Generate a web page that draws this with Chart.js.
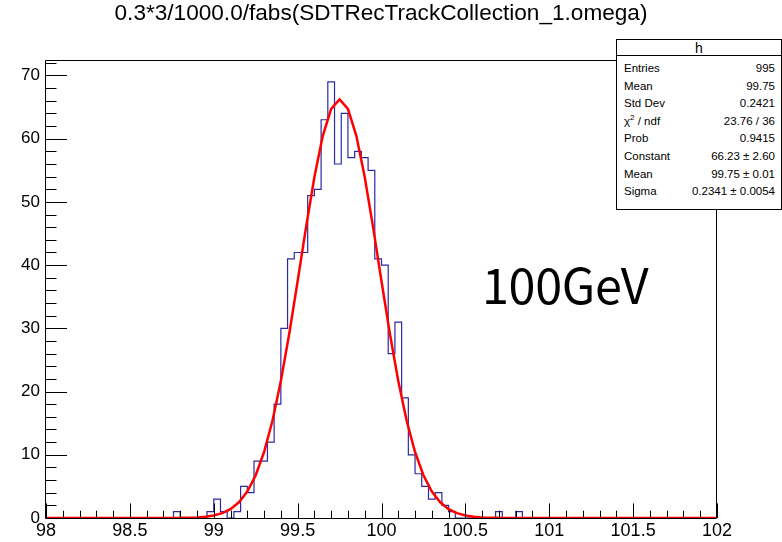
<!DOCTYPE html>
<html>
<head>
<meta charset="utf-8">
<script src="https://cdn.jsdelivr.net/npm/chart.js@4/dist/chart.umd.min.js"></script>
<style>
  body { margin: 0; background: #fff; }
  #wrap { position: relative; width: 782px; height: 542px; overflow: hidden; font-family: "Liberation Sans", Arial, sans-serif; }
  #title { position: absolute; top: 2px; left: 381px; transform: translateX(-50%); font-size: 22.6px; line-height: 22px; white-space: nowrap; color: #000; }
  #energy { position: absolute; left: 482px; top: 248px; font-family: "Noto Sans CJK JP", sans-serif; font-size: 48.5px; line-height: 70px; letter-spacing: -0.3px; color: #000; white-space: nowrap; }
  #stats { position: absolute; left: 616px; top: 39px; width: 166px; height: 171px; box-sizing: border-box; border: 1px solid #000; background: #fff; font-size: 11.5px; color: #000; }
  #stats .head { height: 15px; line-height: 16px; text-align: center; border-bottom: 1px solid #000; font-size: 14px; }
  #stats .row { position: absolute; left: 7px; right: 6px; height: 17.6px; line-height: 17.6px; }
  #stats .row span:last-child { position: absolute; right: 0; }
  sup { font-size: 8px; line-height: 0; }
</style>
</head>
<body>
<div id="wrap">
  <canvas id="myChart" width="782" height="542"></canvas>
  <div id="title">0.3*3/1000.0/fabs(SDTRecTrackCollection_1.omega)</div>
  <div id="energy">100GeV</div>
  <div id="stats"></div>
</div>
<script>
// histogram: 100 bins from 98 to 102
const xMin = 98;
const xMax = 102;
const binWidth = 0.04;
const binCounts = [
  0, 0, 0, 0, 0, 0, 0, 0, 0, 0,
  0, 0, 0, 0, 0, 0, 0, 0, 0, 1,
  0, 0, 0, 0, 1, 3, 1, 0, 1, 5,
  4, 9, 9, 12, 18, 30, 41, 42, 42, 51,
  52, 63, 69, 56, 64, 57, 58, 57, 55, 41,
  40, 26, 31, 19, 10, 7, 5, 3, 4, 2,
  1, 0, 0, 0, 0, 0, 0, 1, 0, 0,
  1, 0, 0, 0, 0, 0, 0, 0, 0, 0,
  0, 0, 0, 0, 0, 0, 0, 0, 0, 0,
  0, 0, 0, 0, 0, 0, 0, 0, 0, 0
];

// gaus fit curve
const fitX = [98, 98.8, 98.9, 98.95, 99.0, 99.05, 99.1, 99.15, 99.2, 99.25, 99.3, 99.35, 99.4, 99.45,
  99.5, 99.55, 99.6, 99.65, 99.7, 99.75, 99.8, 99.85, 99.9, 99.95, 100.0, 100.05, 100.1, 100.15,
  100.2, 100.25, 100.3, 100.35, 100.4, 100.45, 100.5, 100.55, 100.6, 100.7, 102];
const fitY = [0, 0.02, 0.09, 0.19, 0.39, 0.76, 1.40, 2.48, 4.19, 6.77, 10.44, 15.39, 21.66, 29.14,
  37.45, 45.98, 53.94, 60.46, 64.73, 66.23, 64.73, 60.46, 53.94, 45.98, 37.45, 29.14, 21.66, 15.39,
  10.44, 6.77, 4.19, 2.48, 1.40, 0.76, 0.39, 0.19, 0.09, 0.02, 0];

const xTicks = [98, 98.5, 99, 99.5, 100, 100.5, 101, 101.5, 102];
const yTicks = [0, 10, 20, 30, 40, 50, 60, 70];
const yMax = 72.45;

const statLabels = ['Entries', 'Mean', 'Std Dev', 'χ<sup>2</sup> / ndf', 'Prob', 'Constant', 'Mean', 'Sigma'];
const statValues = ['995', '99.75', '0.2421', '23.76 / 36', '0.9415', '66.23 ± 2.60', '99.75 ± 0.01', '0.2341 ± 0.0054'];

// stats box
const box = document.getElementById('stats');
let html = '<div class="head">h</div>';
statLabels.forEach((l, i) => {
  html += '<div class="row" style="top:' + (20 + i * 17.6) + 'px"><span>' + l + '</span><span>' + statValues[i] + '</span></div>';
});
box.innerHTML = html;

// step outline points (left edge of each bin + closing edge)
const histPts = binCounts.map((c, i) => ({ x: xMin + i * binWidth, y: c }));
histPts.push({ x: xMax, y: 0 });
const fitPts = fitX.map((v, i) => ({ x: v, y: fitY[i] }));

// ROOT style frame with inward ticks
const rootFrame = {
  id: 'rootFrame',
  afterDraw(chart) {
    const { ctx, chartArea: a, scales } = chart;
    ctx.save();
    ctx.strokeStyle = '#000';
    ctx.lineWidth = 1;
    ctx.beginPath();
    ctx.rect(a.left - 0.5, a.top + 0.5, a.right - a.left, a.bottom - a.top);
    for (let k = 0; k <= 40; k++) {
      const px = Math.round(scales.x.getPixelForValue(xMin + k * 0.1)) + 0.5;
      const len = k % 5 === 0 ? 14.6 : 7.3;
      ctx.moveTo(px, a.bottom);
      ctx.lineTo(px, a.bottom - len);
    }
    for (let k = 0; k * 2 <= yMax; k++) {
      const py = Math.round(scales.y.getPixelForValue(k * 2)) + 0.5;
      const len = k % 5 === 0 ? 21 : 10.5;
      ctx.moveTo(a.left, py);
      ctx.lineTo(a.left + len, py);
    }
    ctx.stroke();
    ctx.restore();
  }
};

new Chart(document.getElementById('myChart'), {
  type: 'line',
  data: {
    datasets: [
      {
        label: 'fit',
        data: fitPts,
        borderColor: '#ff0000',
        borderWidth: 2.5,
        pointRadius: 0,
        tension: 0,
        order: 0
      },
      {
        label: 'h',
        data: histPts,
        stepped: 'before',
        borderColor: '#2a2aa6',
        borderWidth: 1.2,
        pointRadius: 0,
        order: 1
      }
    ]
  },
  options: {
    responsive: false,
    animation: false,
    devicePixelRatio: 1,
    layout: { padding: { top: 60, right: 65, left: 0, bottom: 0 } },
    plugins: { legend: { display: false }, tooltip: { enabled: false } },
    scales: {
      x: {
        type: 'linear',
        min: xMin,
        max: xMax,
        grid: { display: false, drawTicks: false },
        border: { display: false },
        afterFit(s) { s.height = 24; },
        afterBuildTicks(s) { s.ticks = xTicks.map(v => ({ value: v })); },
        ticks: {
          padding: 2, maxRotation: 0, autoSkip: false, color: '#000',
          font: { family: 'Liberation Sans', size: 18 },
          callback: v => String(v)
        }
      },
      y: {
        min: 0,
        max: yMax,
        grid: { display: false, drawTicks: false },
        border: { display: false },
        afterFit(s) { s.width = 46; },
        afterBuildTicks(s) { s.ticks = yTicks.map(v => ({ value: v })); },
        ticks: { padding: 6, color: '#000', font: { family: 'Liberation Sans', size: 17 }, callback: v => String(v) }
      }
    }
  },
  plugins: [rootFrame]
});
</script>
</body>
</html>
